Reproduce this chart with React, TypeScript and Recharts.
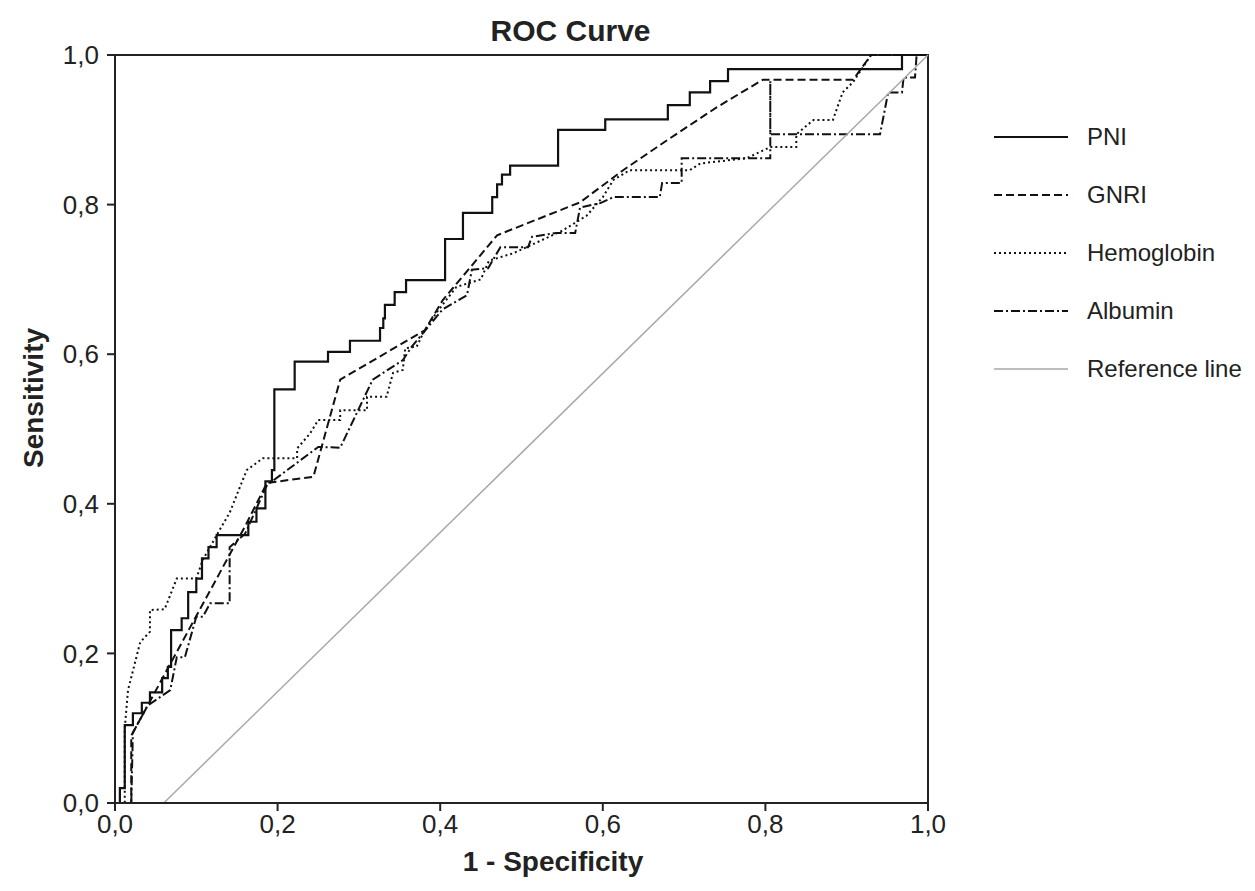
import { LineChart, Line, XAxis, YAxis, ReferenceArea } from 'recharts';

// ROC curves: false positive rate (1 - specificity) vs. sensitivity
const pniFpr = [0, 0.006, 0.006, 0.012, 0.012, 0.022, 0.022, 0.033, 0.033, 0.043, 0.043, 0.058, 0.058, 0.065, 0.065, 0.069, 0.069, 0.082, 0.082, 0.09, 0.09, 0.1, 0.1, 0.107, 0.107, 0.115, 0.115, 0.125, 0.125, 0.164, 0.164, 0.174, 0.174, 0.185, 0.185, 0.193, 0.193, 0.196, 0.196, 0.221, 0.221, 0.262, 0.262, 0.289, 0.289, 0.326, 0.326, 0.33, 0.33, 0.332, 0.332, 0.344, 0.344, 0.358, 0.358, 0.406, 0.406, 0.428, 0.428, 0.464, 0.464, 0.47, 0.47, 0.476, 0.476, 0.486, 0.486, 0.545, 0.545, 0.603, 0.603, 0.68, 0.68, 0.707, 0.707, 0.732, 0.732, 0.754, 0.754, 0.968, 0.968, 1];
const pniTpr = [0, 0, 0.02, 0.02, 0.104, 0.104, 0.12, 0.12, 0.134, 0.134, 0.148, 0.148, 0.167, 0.167, 0.182, 0.182, 0.231, 0.231, 0.247, 0.247, 0.282, 0.282, 0.3, 0.3, 0.327, 0.327, 0.342, 0.342, 0.358, 0.358, 0.376, 0.376, 0.394, 0.394, 0.43, 0.43, 0.445, 0.445, 0.553, 0.553, 0.59, 0.59, 0.603, 0.603, 0.618, 0.618, 0.635, 0.635, 0.648, 0.648, 0.666, 0.666, 0.683, 0.683, 0.699, 0.699, 0.754, 0.754, 0.789, 0.789, 0.81, 0.81, 0.827, 0.827, 0.84, 0.84, 0.852, 0.852, 0.9, 0.9, 0.914, 0.914, 0.933, 0.933, 0.95, 0.95, 0.965, 0.965, 0.981, 0.981, 1, 1];

const gnriFpr = [0, 0.02, 0.02, 0.04, 0.07, 0.1, 0.13, 0.16, 0.187, 0.244, 0.277, 0.381, 0.403, 0.47, 0.572, 0.625, 0.679, 0.74, 0.797, 0.908, 0.93, 1];
const gnriTpr = [0, 0, 0.09, 0.13, 0.19, 0.25, 0.31, 0.37, 0.428, 0.436, 0.566, 0.632, 0.672, 0.759, 0.803, 0.846, 0.886, 0.93, 0.967, 0.967, 1, 1];

const hbFpr = [0, 0.012, 0.012, 0.016, 0.031, 0.043, 0.043, 0.061, 0.076, 0.1, 0.108, 0.125, 0.141, 0.162, 0.182, 0.224, 0.224, 0.24, 0.25, 0.277, 0.277, 0.31, 0.31, 0.334, 0.342, 0.354, 0.357, 0.371, 0.379, 0.395, 0.42, 0.45, 0.46, 0.49, 0.52, 0.55, 0.58, 0.6, 0.613, 0.633, 0.707, 0.72, 0.777, 0.806, 0.838, 0.838, 0.859, 0.883, 0.895, 0.908, 0.93, 1];
const hbTpr = [0, 0, 0.1, 0.151, 0.215, 0.229, 0.258, 0.259, 0.3, 0.3, 0.325, 0.358, 0.388, 0.445, 0.461, 0.461, 0.474, 0.494, 0.512, 0.512, 0.525, 0.525, 0.543, 0.543, 0.575, 0.579, 0.608, 0.61, 0.628, 0.655, 0.69, 0.7, 0.725, 0.735, 0.75, 0.765, 0.785, 0.81, 0.833, 0.846, 0.846, 0.855, 0.862, 0.877, 0.877, 0.894, 0.913, 0.913, 0.95, 0.964, 1, 1];

const albFpr = [0, 0.02, 0.022, 0.04, 0.068, 0.076, 0.086, 0.1, 0.108, 0.117, 0.141, 0.141, 0.16, 0.187, 0.25, 0.277, 0.317, 0.354, 0.365, 0.403, 0.433, 0.439, 0.459, 0.474, 0.508, 0.513, 0.543, 0.566, 0.572, 0.597, 0.613, 0.67, 0.673, 0.697, 0.697, 0.806, 0.806, 0.806, 0.941, 0.951, 0.968, 0.97, 0.984, 0.986, 1];
const albTpr = [0, 0, 0.094, 0.13, 0.151, 0.195, 0.195, 0.249, 0.249, 0.267, 0.267, 0.342, 0.36, 0.425, 0.476, 0.475, 0.566, 0.592, 0.61, 0.66, 0.679, 0.713, 0.715, 0.743, 0.743, 0.757, 0.762, 0.762, 0.796, 0.802, 0.81, 0.81, 0.829, 0.829, 0.862, 0.862, 0.965, 0.894, 0.894, 0.95, 0.95, 0.97, 0.97, 1, 1];

const refFpr = [0.06, 1];
const refTpr = [0, 1];

const axisTicks = [0, 0.2, 0.4, 0.6, 0.8, 1];

const toPoints = (xs: number[], ys: number[]) => xs.map((x, i) => ({ x, y: ys[i] }));

const series = [
  { name: 'PNI', data: toPoints(pniFpr, pniTpr), stroke: '#111', dash: undefined, width: 2.2 },
  { name: 'GNRI', data: toPoints(gnriFpr, gnriTpr), stroke: '#111', dash: '8 4', width: 2 },
  { name: 'Hemoglobin', data: toPoints(hbFpr, hbTpr), stroke: '#111', dash: '2 3', width: 2 },
  { name: 'Albumin', data: toPoints(albFpr, albTpr), stroke: '#111', dash: '9 3 2 3', width: 2 },
  { name: 'Reference line', data: toPoints(refFpr, refTpr), stroke: '#a8a8a8', dash: undefined, width: 1.5 },
];

const fmt = (v: number) => v.toFixed(1).replace('.', ',');

const font = '"Liberation Sans", Arial, sans-serif';

const LegendBox = () => (
  <div style={{ position: 'absolute', left: 985, top: 100, fontFamily: font }}>
    {series.map((s) => (
      <div key={s.name} style={{ display: 'flex', alignItems: 'center', height: 58 }}>
        <svg width={76} height={10} style={{ marginRight: 18 }}>
          <line x1={1} y1={5} x2={75} y2={5} stroke={s.stroke} strokeWidth={s.width} strokeDasharray={s.dash} />
        </svg>
        <span style={{ fontSize: 24, color: '#222' }}>{s.name}</span>
      </div>
    ))}
  </div>
);

export default function App() {
  return (
    <div style={{ position: 'relative', width: 1240, height: 880, fontFamily: font }}>
      <div style={{ position: 'absolute', left: 0, width: 1125, top: 6, textAlign: 'center', fontSize: 30, fontWeight: 'bold', color: '#222' }}>
        ROC Curve
      </div>
      <div style={{ position: 'absolute', left: 0, width: 1090, top: 838, textAlign: 'center', fontSize: 28, fontWeight: 'bold', color: '#222' }}>
        1 - Specificity
      </div>
      <div
        style={{
          position: 'absolute', left: 26, top: 390, fontSize: 28, fontWeight: 'bold', color: '#222',
          transform: 'translate(-50%, -50%) rotate(-90deg)', whiteSpace: 'nowrap',
        }}
      >
        Sensitivity
      </div>
      <LineChart width={1240} height={880} margin={{ top: 47, right: 320, bottom: 35, left: 37 }}>
        <XAxis
          dataKey="x"
          type="number"
          domain={[0, 1]}
          ticks={axisTicks}
          tickFormatter={fmt}
          height={50}
          axisLine={{ stroke: '#222', strokeWidth: 2 }}
          tickLine={{ stroke: '#222', strokeWidth: 2 }}
          tickSize={8}
          tickMargin={4}
          tick={{ fontSize: 26, fill: '#222', fontFamily: font }}
          allowDuplicatedCategory={false}
        />
        <YAxis
          type="number"
          domain={[0, 1]}
          ticks={axisTicks}
          tickFormatter={fmt}
          width={70}
          axisLine={{ stroke: '#222', strokeWidth: 2 }}
          tickLine={{ stroke: '#222', strokeWidth: 2 }}
          tickSize={8}
          tickMargin={8}
          tick={{ fontSize: 26, fill: '#222', fontFamily: font }}
        />
        <ReferenceArea x1={0} x2={1} y1={0} y2={1} fill="none" stroke="#222" strokeWidth={2} ifOverflow="visible" />
        {series.map((s) => (
          <Line
            key={s.name}
            data={s.data}
            dataKey="y"
            name={s.name}
            type="linear"
            stroke={s.stroke}
            strokeWidth={s.width}
            strokeDasharray={s.dash}
            dot={false}
            activeDot={false}
            isAnimationActive={false}
          />
        ))}
      </LineChart>
      <LegendBox />
    </div>
  );
}
